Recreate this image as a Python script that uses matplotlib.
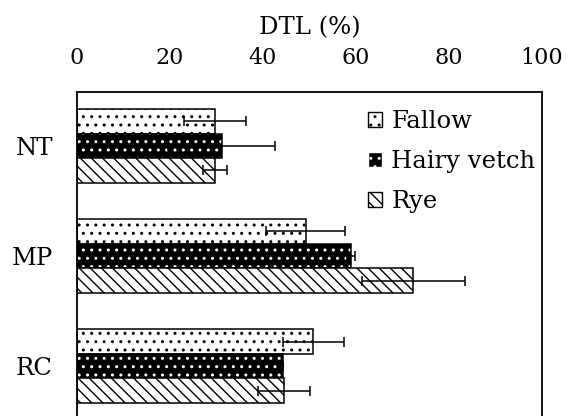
import numpy as np
import matplotlib
matplotlib.use('Agg')
import matplotlib.pyplot as plt
from matplotlib.patches import Patch

plt.rcParams['font.family'] = ['DejaVu Serif']
plt.rcParams['hatch.linewidth'] = 1.0

sites = ['NT', 'MP', 'RC']
series = ['Fallow', 'Hairy vetch', 'Rye']

fallow = [29.7, 49.2, 50.8]
fallow_err = [6.7, 8.5, 6.6]
vetch = [31.1, 58.9, 44.2]
vetch_err = [11.5, 0.9, 0.0]
rye = [29.7, 72.3, 44.6]
rye_err = [2.5, 11.1, 5.6]

values = [fallow, vetch, rye]
errors = [fallow_err, vetch_err, rye_err]

fig = plt.figure(figsize=(5.69, 4.16), dpi=100)
ax = fig.add_axes([77 / 569, -4 / 416, 465 / 569, 328 / 416])

y = np.arange(len(sites))
h = 0.223
offsets = [-h, 0, h]

# face colour, hatch, hatch colour
styles = [('white', '..', 'black'),
          ('black', '..', 'white'),
          ('white', '\\\\\\', 'black')]

for vals, errs, off, (fc, hatch, hc) in zip(values, errors, offsets, styles):
    ax.barh(y + off, vals, height=h, color=fc, edgecolor=hc, hatch=hatch, linewidth=0)
    ax.barh(y + off, vals, height=h, color='none', edgecolor='black', linewidth=1.1)
    ax.errorbar(vals, y + off, xerr=errs, fmt='none', ecolor='black',
                elinewidth=1.1, capsize=3.6, capthick=1.1)

ax.set_xlim(0, 100)
ax.set_ylim(2.49, -0.49)
ax.set_yticks(y)
ax.set_yticklabels(sites)
ax.set_xticks([0, 20, 40, 60, 80, 100])
ax.xaxis.tick_top()
ax.xaxis.set_label_position('top')
ax.set_xlabel('DTL (%)', fontsize=17.5, labelpad=9.5)
ax.tick_params(axis='x', length=0, pad=16.5, labelsize=16)
ax.tick_params(axis='y', length=0, pad=17.3, labelsize=17.5)
for s in ax.spines.values():
    s.set_linewidth(1.3)

handles = []
for name, (fc, hatch, hc) in zip(series, styles):
    handles.append(Patch(facecolor=fc, edgecolor=hc, hatch=hatch, label=name))
leg = fig.legend(handles=handles, loc='upper left', bbox_to_anchor=(356 / 569, 1 - 98 / 416),
                 frameon=False, fontsize=17.5, handlelength=0.58, handleheight=0.58,
                 handletextpad=0.37, labelspacing=0.7, borderpad=0)
for p in leg.get_patches():
    p.set_linewidth(1.0)

fig.savefig('out.png', dpi=100)
